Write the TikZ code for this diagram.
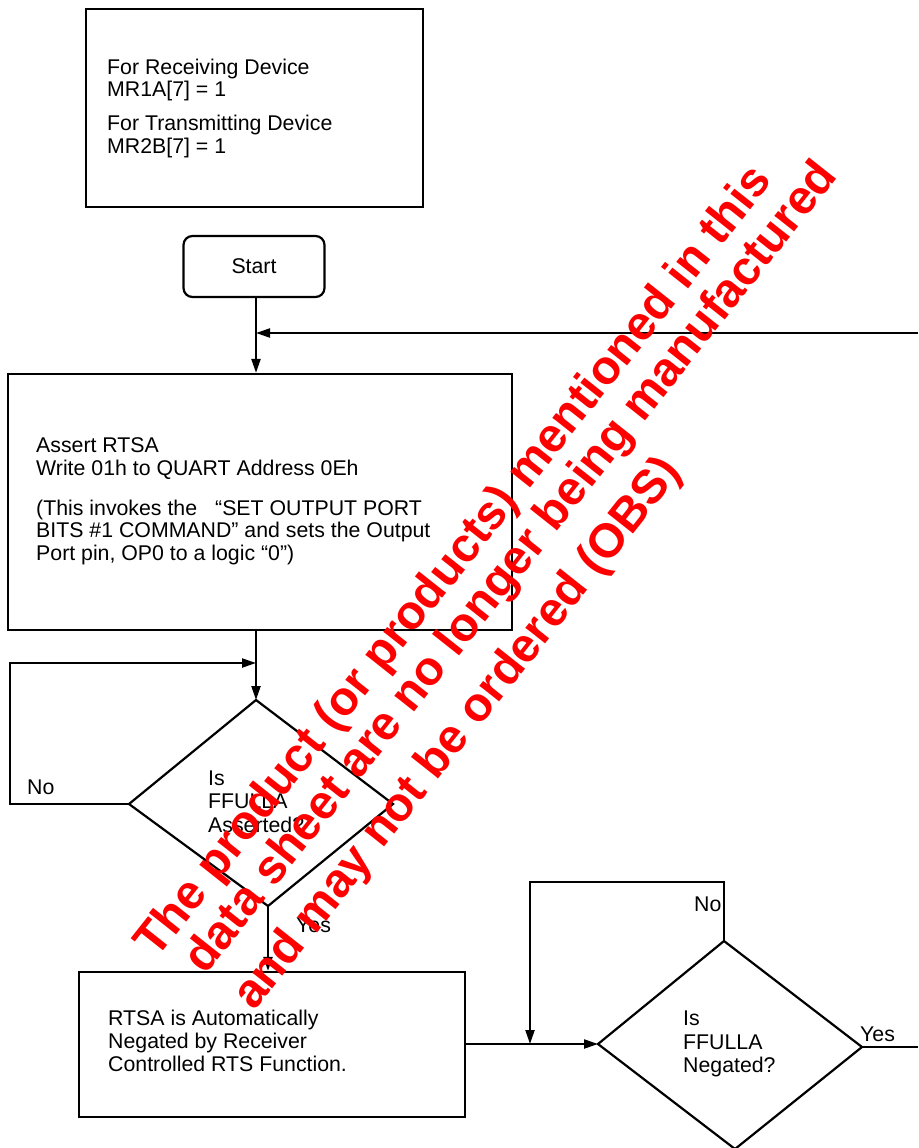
\documentclass[tikz,border=0pt]{standalone}
\usepackage{fontspec}
\setmainfont{Liberation Sans}
\usetikzlibrary{arrows.meta}
\begin{document}
\begin{tikzpicture}[x=1pt,y=1pt,
  line/.style={line width=2.2pt, draw=black},
  arr/.style={line, -{Triangle[length=14pt,width=9pt]}},
  box/.style={draw, line width=2.2pt, rectangle, inner sep=0pt},
  % multi-line texts are placed by the baseline of their last line
  txt/.style={inner sep=0pt, anchor=base west, align=left,
              font={\fontsize{21.3}{22.7}\selectfont}},
  wm/.style={inner sep=0pt, anchor=base west, rotate=51.6, text=red,
             font={\fontsize{47.7}{50}\selectfont\bfseries}},
]
\useasboundingbox (0,0) rectangle (918,-1148);

% ---- boxes ----
\node[box, minimum width=337pt, minimum height=198pt] (cfg) at (254.5,-108) {};
\node[box, rounded corners=9pt, minimum width=141pt, minimum height=61pt,
      font={\fontsize{21.3}{22.7}\selectfont}] (start) at (254,-266.5) {Start};
\node[box, minimum width=504pt, minimum height=256pt] (assert) at (260,-502) {};
\node[box, minimum width=386pt, minimum height=145pt] (negbox) at (272,-1044.5) {};

% ---- box texts ----
\node[txt] (cfgA) at (107,-96.7) {For Receiving Device\\MR1A[7] = 1};
\node[txt] (cfgB) at (107,-153.3) {For Transmitting Device\\MR2B[7] = 1};
\node[txt, font={\fontsize{21.3}{22.3}\selectfont}] (asA) at (36,-475)
  {Assert RTSA\\Write 01h to QUART Address 0Eh};
\node[txt, font={\fontsize{21.3}{22.5}\selectfont}] (asB) at (36,-560)
  {(This invokes the\hspace{18pt}“SET OUTPUT PORT\\BITS \#1 COMMAND” and sets the Output\\Port pin, OP0 to a logic “0”)};
\node[txt, font={\fontsize{21.3}{23.3}\selectfont}] (negT) at (108,-1071.7)
  {RTSA is Automatically\\Negated by Receiver\\Controlled RTS Function.};

% ---- decision 1: FFULLA asserted ----
\coordinate (d1t) at (256,-700);
\coordinate (d1r) at (393,-804);
\coordinate (d1b) at (268,-906);
\coordinate (d1l) at (129,-804);
\draw[line, line join=miter] (d1t) -- (d1r) -- (d1b) -- (d1l) -- cycle;
\node[txt, font={\fontsize{21.3}{23.5}\selectfont}] (d1txt) at (208,-832) {Is\\FFULLA\\Asserted?};

% ---- decision 2: FFULLA negated ----
\coordinate (d2t) at (724,-941);
\coordinate (d2r) at (862,-1047);
\coordinate (d2b) at (735,-1149);
\coordinate (d2l) at (598,-1044);
\draw[line, line join=miter] (d2t) -- (d2r) -- (d2b) -- (d2l) -- cycle;
\node[txt, font={\fontsize{21.3}{23.5}\selectfont}] (d2txt) at (683,-1072.7) {Is\\FFULLA\\Negated?};

% ---- connectors ----
\coordinate (fbIn) at (918,-333);
\coordinate (loopA) at (10,-663);
\coordinate (loopB) at (530,-882);
\coordinate (yesOut) at (918,-1047);

\draw[arr] (start.south -| d1t) -- (d1t |- assert.north);
\draw[arr] (fbIn) -- (fbIn -| d1t);
\draw[arr] (assert.south -| d1t) -- (d1t);
\draw[arr] (d1l) -| (loopA) -- (loopA -| d1t);
\draw[arr] (d1b) -- (d1b |- negbox.north);
\draw[arr] (negbox.east |- d2l) -- (d2l);
\draw[arr] (d2t) |- (loopB) -- (loopB |- d2l);
\draw[line] (d2r) -- (yesOut);

% ---- branch labels ----
\node[txt] (no1) at (27,-794) {No};
\node[txt] (yes1) at (296,-932) {Yes};
\node[txt] (no2) at (694,-911) {No};
\node[txt] (yes2) at (860,-1041) {Yes};

% ---- notice ----
\node[wm] (wm1) at (156,-960) {The product (or products) mentioned in this};
\node[wm] (wm2) at (205,-976) {data sheet are no longer being manufactured};
\node[wm] (wm3) at (254,-1012) {and may not be ordered (OBS)};
\end{tikzpicture}
\end{document}
